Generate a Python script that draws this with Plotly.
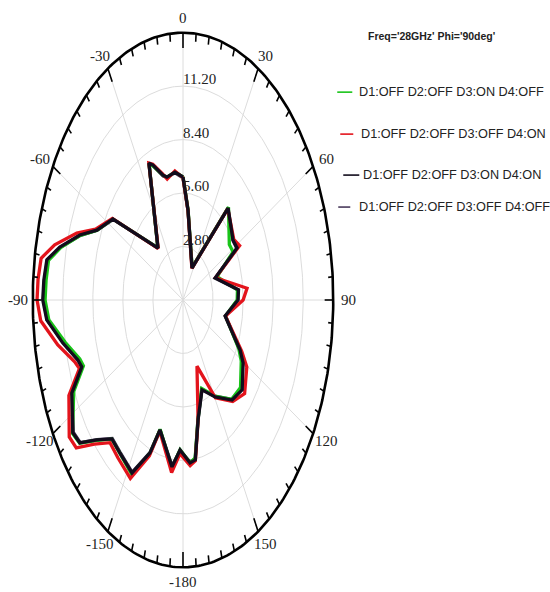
import numpy as np
import plotly.graph_objects as go

# ---- data: gain pattern (dB) vs. theta (deg, clockwise from top) ----
theta_deg = [0.0, 5.7, 26.6, 41.1, 56.1, 61.6, 69.0, 84.1, 90.0, 102.0, 116.2,
             120.5, 130.5, 138.9, 149.5, 159.4, 167.4, 172.2, 175.6, 182.0,
             186.7, 197.5, 201.0, 207.7, 216.3, 222.3, 227.6, 232.1, 235.9,
             244.8, 249.6, 252.2, 258.6, 265.3, 270.0, 274.6, 279.4, 283.6,
             289.5, 294.5, 303.0, 306.5, 319.4, 336.1, 338.4, 344.1, 346.9,
             353.6]

r_d3_on = [6.45, 4.75, 1.90, 6.45, 5.20, 5.30, 3.40, 5.10, 5.05, 4.05, 5.80,
           6.30, 7.05, 6.90, 5.85, 4.95, 6.40, 8.35, 8.55, 7.85,
           8.85, 7.10, 8.60, 10.30, 9.95, 9.85, 10.90, 12.20, 12.45,
           11.25, 9.90, 10.10, 11.20, 12.55, 12.85, 12.80, 12.70, 11.70,
           10.15, 8.80, 7.80, 6.15, 3.60, 7.80, 7.55, 6.80, 6.60,
           6.75]

r_d4_on = [6.40, 4.70, 1.85, 6.35, 5.70, 6.00, 3.25, 6.00, 5.60, 4.05, 6.10,
           6.90, 7.55, 7.05, 5.95, 3.70, 6.45, 8.50, 8.70, 8.05,
           9.10, 7.20, 8.75, 10.55, 10.25, 10.10, 11.20, 12.60, 12.80,
           11.75, 10.30, 10.60, 11.90, 13.30, 13.60, 13.55, 13.40, 12.30,
           10.50, 8.95, 7.85, 6.15, 3.55, 7.85, 7.65, 6.85, 6.50,
           6.80]

r_d3_d4_on = [6.44, 4.73, 1.87, 6.39, 5.62, 5.73, 3.20, 5.20, 5.13, 4.01, 5.93,
              6.50, 7.25, 6.95, 5.89, 5.03, 6.44, 8.45, 8.56, 7.86,
              8.80, 7.13, 8.58, 10.23, 9.94, 9.84, 10.87, 12.18, 12.40,
              11.45, 10.06, 10.29, 11.42, 12.74, 13.07, 13.01, 12.86, 11.81,
              10.20, 8.82, 7.79, 6.15, 3.58, 7.84, 7.60, 6.80, 6.61,
              6.74]

r_all_off = [6.40, 4.70, 1.90, 6.35, 5.60, 5.70, 3.25, 5.15, 5.10, 4.05, 5.90,
             6.45, 7.20, 6.90, 5.85, 5.00, 6.40, 8.40, 8.50, 7.90,
             8.75, 7.15, 8.55, 10.20, 9.90, 9.80, 10.85, 12.15, 12.35,
             11.40, 10.05, 10.25, 11.35, 12.70, 13.00, 12.95, 12.80, 11.75,
             10.15, 8.80, 7.75, 6.15, 3.60, 7.80, 7.55, 6.75, 6.60,
             6.70]

series_names = ["D1:OFF D2:OFF D3:ON D4:OFF",
                "D1:OFF D2:OFF D3:OFF D4:ON",
                "D1:OFF D2:OFF D3:ON D4:ON",
                "D1:OFF D2:OFF D3:OFF D4:OFF"]
series_values = [r_d3_on, r_d4_on, r_d3_d4_on, r_all_off]
series_colors = ["#19c419", "#e3141c", "#120c1c", "#4a3a5c"]
draw_order = [3, 0, 1, 2]

legend_title = "Freq='28GHz' Phi='90deg'"

R_MAX = 14.0
ring_values = [2.8, 5.6, 8.4, 11.2]
ring_labels = ["2.80", "5.60", "8.40", "11.20"]
angle_ticks = [0, 30, 60, 90, 120, 150, 180, -150, -120, -90, -60, -30]
angle_labels = ["0", "30", "60", "90", "120", "150", "-180", "-150",
                "-120", "-90", "-60", "-30"]

# ---- page geometry (pixels) ----
W, H = 550, 592
CX, CY = 183.0, 300.0        # pole position on the page
RX, RY = 150.0, 267.5        # pixel radius of the outer circle (x / y)
PAD = 0.35                   # extra data units around the outer circle
span = R_MAX + PAD
m_l = CX - RX * span / R_MAX
m_r = W - (CX + RX * span / R_MAX)
m_t = CY - RY * span / R_MAX
m_b = H - (CY + RY * span / R_MAX)
plot_w = W - m_l - m_r
plot_h = H - m_t - m_b


def to_xy(theta, r):
    th = np.radians(np.asarray(theta, dtype=float))
    r = np.asarray(r, dtype=float)
    return r * np.sin(th), r * np.cos(th)


def px_to_paper(px, py):
    return (px - m_l) / plot_w, 1 - (py - m_t) / plot_h


fig = go.Figure()
GRID = "#dcdcdc"
full = np.linspace(0, 360, 361)

# concentric rings
for rv in ring_values:
    gx, gy = to_xy(full, np.full_like(full, rv))
    fig.add_trace(go.Scatter(x=gx, y=gy, mode="lines", hoverinfo="skip",
                             line=dict(color=GRID, width=1), showlegend=False))

# spokes every 30 degrees
sx, sy = [], []
for a in range(0, 360, 30):
    ex, ey = to_xy([a], [R_MAX])
    sx += [0, float(ex[0]), None]
    sy += [0, float(ey[0]), None]
fig.add_trace(go.Scatter(x=sx, y=sy, mode="lines", hoverinfo="skip",
                         line=dict(color=GRID, width=1), showlegend=False))

# pattern curves
for i in draw_order:
    th = list(theta_deg) + [theta_deg[0]]
    rr = list(series_values[i]) + [series_values[i][0]]
    x, y = to_xy(th, rr)
    fig.add_trace(go.Scatter(x=x, y=y, mode="lines", name=series_names[i],
                             line=dict(color=series_colors[i], width=3.3),
                             showlegend=False,
                             customdata=np.stack([th, rr], axis=1),
                             hovertemplate="θ=%{customdata[0]}°<br>r=%{customdata[1]}<extra>"
                                           + series_names[i] + "</extra>"))

# outer circle
ox, oy = to_xy(full, np.full_like(full, R_MAX))
fig.add_trace(go.Scatter(x=ox, y=oy, mode="lines", hoverinfo="skip",
                         line=dict(color="black", width=2.6), showlegend=False))

# inward ticks: minor every 5 deg, major every 30 deg
tx, ty = [], []
for a in range(0, 360, 5):
    length = 0.8 if a % 30 == 0 else 0.42
    px_, py_ = to_xy([a, a], [R_MAX, R_MAX - length])
    tx += [float(px_[0]), float(px_[1]), None]
    ty += [float(py_[0]), float(py_[1]), None]
fig.add_trace(go.Scatter(x=tx, y=ty, mode="lines", hoverinfo="skip",
                         line=dict(color="black", width=1.6), showlegend=False))

annotations = []
SERIF = "Liberation Serif, Times New Roman, serif"

# angular labels
for a, lab in zip(angle_ticks, angle_labels):
    ex, ey = to_xy([a], [R_MAX])
    off = 15
    annotations.append(dict(x=float(ex[0]), y=float(ey[0]), xref="x", yref="y",
                            text=lab, showarrow=False,
                            xshift=off * np.sin(np.radians(a)),
                            yshift=off * np.cos(np.radians(a)),
                            font=dict(family=SERIF, size=15, color="#222")))

# radial labels along the 0 deg spoke
for rv, lab in zip(ring_values, ring_labels):
    annotations.append(dict(x=0, y=rv, xref="x", yref="y", text=lab,
                            showarrow=False, xanchor="left", yanchor="middle",
                            xshift=-2, yshift=7,
                            font=dict(family=SERIF, size=15, color="#222")))

# legend block
SANS = "Liberation Sans, Arial, sans-serif"
lx, ly = px_to_paper(431, 36)
annotations.append(dict(x=lx, y=ly, xref="paper", yref="paper",
                        text="<b>" + legend_title + "</b>", showarrow=False,
                        xanchor="center", yanchor="middle",
                        font=dict(family=SANS, size=10.5, color="#222")))

legend_rows = [  # (line x0, line x1, text x, y) in pixels
    (337, 352, 357, 92),
    (340, 353, 359, 134),
    (343, 359, 361, 175),
    (338, 350, 357, 207),
]
shapes = []
for i, (x0, x1, xt, yrow) in enumerate(legend_rows):
    p0 = px_to_paper(x0, yrow)
    p1 = px_to_paper(x1, yrow)
    shapes.append(dict(type="line", xref="paper", yref="paper",
                       x0=p0[0], y0=p0[1], x1=p1[0], y1=p1[1],
                       line=dict(color=series_colors[i], width=1.6)))
    pt = px_to_paper(xt, yrow)
    annotations.append(dict(x=pt[0], y=pt[1], xref="paper", yref="paper",
                            text=series_names[i], showarrow=False,
                            xanchor="left", yanchor="middle",
                            font=dict(family=SANS, size=12.7, color="#222")))

fig.update_layout(
    width=W, height=H,
    margin=dict(l=m_l, r=m_r, t=m_t, b=m_b, pad=0),
    paper_bgcolor="white", plot_bgcolor="white",
    xaxis=dict(range=[-span, span], visible=False, fixedrange=True),
    yaxis=dict(range=[-span, span], visible=False, fixedrange=True),
    annotations=annotations, shapes=shapes,
    showlegend=False,
)

fig.write_html("out.html")
